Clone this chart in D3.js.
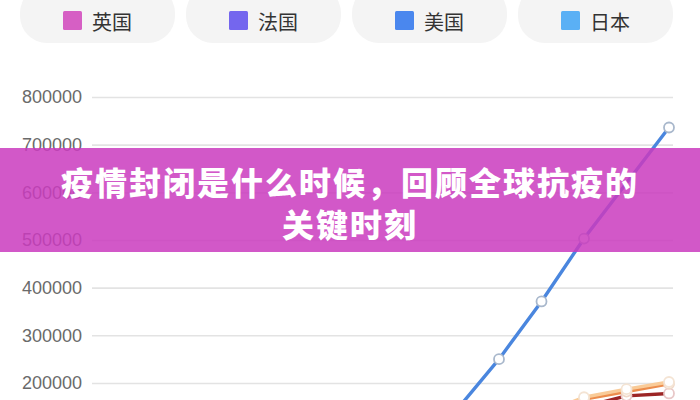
<!DOCTYPE html>
<html>
<head>
<meta charset="utf-8">
<script src="https://cdn.jsdelivr.net/npm/d3@7/dist/d3.min.js"></script>
<style>
  html, body { margin: 0; padding: 0; background: #fff; }
  svg { display: block; }
</style>
</head>
<body>
<svg id="chart" width="700" height="400"></svg>
<script>
// ---- data ----
const categories = ["3/1","3/2","3/3","3/4","3/5","3/6","3/7","3/8","3/9","3/10","3/11","3/12","3/13","3/14"];
const legendNames = ["英国", "法国", "美国", "日本"];
const legendColors = ["#d65fc4", "#7466ee", "#4a87ee", "#5ab0f5"];
const usaValues   = [1000, 2000, 4000, 7000, 12000, 20000, 35000, 62000, 143000, 250000, 371000, 503000, null, 736000];
const peachValues = [500, 1000, 2000, 4000, 8000, 15000, 28000, 50000, 80000, 110000, 135000, 170000, 187000, 202000];
const orangeValues= [400, 900, 1800, 3500, 7000, 13000, 25000, 45000, 75000, 100000, 128000, 166000, 182000, 198000];
const redValues   = [300, 700, 1500, 3000, 6000, 11000, 21000, 40000, 65000, 90000, 118000, 150000, 173000, 178000];
const yTicks = [200000, 300000, 400000, 500000, 600000, 700000, 800000];
const titleLines = ["疫情封闭是什么时候，回顾全球抗疫的", "关键时刻"];

const svg = d3.select("#chart");

// ---- scales ----
const x = d3.scalePoint().domain(categories).range([116.5, 669]);
const y = d3.scaleLinear().domain([0, 800000]).range([478.3, 97]);

// ---- legend pills ----
const pillX = d3.scalePoint().domain(legendNames).range([20, 518]);
const lg = svg.append("g");
const pill = lg.selectAll("g").data(legendNames).join("g")
  .attr("transform", d => `translate(${pillX(d)},0)`);
pill.append("rect")
  .attr("x", 0).attr("y", -14).attr("width", 155).attr("height", 57)
  .attr("rx", 27).attr("fill", "#f4f4f4");
pill.append("rect")
  .attr("x", 43).attr("y", 11).attr("width", 19).attr("height", 19).attr("rx", 1.5)
  .attr("fill", (d, i) => legendColors[i]);
pill.append("text")
  .attr("x", 72).attr("y", 21).attr("dominant-baseline", "central")
  .attr("font-family", "'Noto Sans CJK SC', sans-serif")
  .attr("font-size", 20).attr("fill", "#333")
  .text(d => d);

// ---- grid + y axis ----
const yAxis = d3.axisLeft(y).tickValues(yTicks).tickFormat(d3.format("d"))
  .tickSize(-581).tickPadding(10);
const ag = svg.append("g").attr("transform", "translate(92,0)").call(yAxis);
ag.select(".domain").remove();
ag.selectAll(".tick line").attr("stroke", "#e3e3e3").attr("stroke-width", 1.6);
ag.selectAll(".tick text")
  .attr("font-family", "'Liberation Sans', Arial, sans-serif")
  .attr("font-size", 18).attr("fill", "#6a6a6a");

// ---- lines ----
const series = [
  { values: redValues,    color: "#9c2525", marker: "#e8c8c8" },
  { values: orangeValues, color: "#ec8c4c", marker: "#f0d8c8" },
  { values: peachValues,  color: "#f9cb98", marker: "#f4e4d4" },
  { values: usaValues,    color: "#4a86de", marker: "#a9b8cc" }
];
const line = d3.line().x(d => x(d.c)).y(d => y(d.v));
series.forEach(s => {
  const pts = categories.map((c, i) => ({ c, v: s.values[i] })).filter(p => p.v !== null);
  svg.append("path").datum(pts)
    .attr("d", line).attr("fill", "none")
    .attr("stroke", s.color).attr("stroke-width", 3.4)
    .attr("stroke-linejoin", "round");
  svg.append("g").selectAll("circle").data(pts.slice(-5)).join("circle")
    .attr("cx", d => x(d.c)).attr("cy", d => y(d.v)).attr("r", 5)
    .attr("fill", "#fff").attr("stroke", s.marker).attr("stroke-width", 1.8);
});

// ---- banner ----
svg.append("rect").attr("x", 0).attr("y", 148).attr("width", 700).attr("height", 104)
  .attr("fill", "rgb(202,59,190)").attr("fill-opacity", 0.85);
svg.append("g").selectAll("text").data(titleLines).join("text")
  .attr("x", 350).attr("y", (d, i) => 181 + i * 42)
  .attr("text-anchor", "middle").attr("dominant-baseline", "central")
  .attr("font-family", "'Noto Sans CJK SC', sans-serif")
  .attr("font-weight", 900).attr("font-size", 32).attr("letter-spacing", 2)
  .attr("fill", "#fff")
  .text(d => d);
</script>
</body>
</html>
